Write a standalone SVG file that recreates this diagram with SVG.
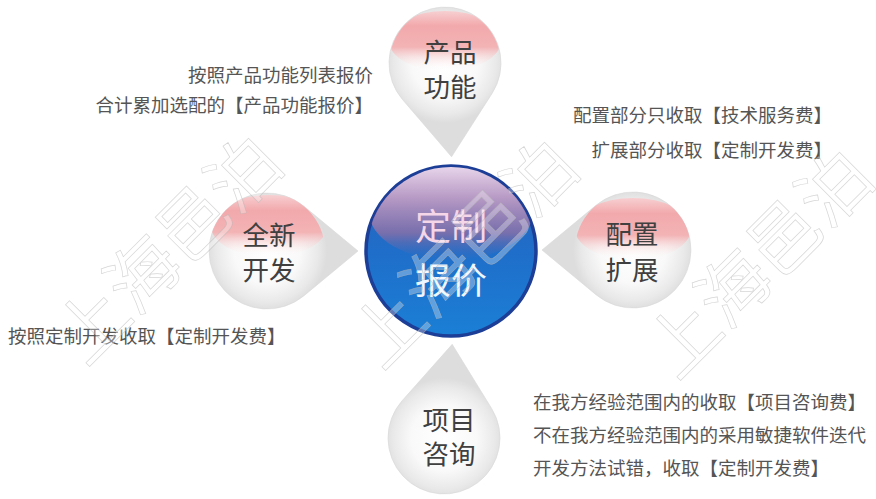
<svg xmlns="http://www.w3.org/2000/svg" width="876" height="499" viewBox="0 0 876 499">
<style>
.drop{fill:url(#gDrop);stroke:#d8d8d8;stroke-width:0.6}
.cap{fill:url(#gCap)}
.nt{font-family:"Noto Sans CJK SC","Noto Sans",sans-serif;font-size:26.5px;fill:#404040;text-anchor:middle}
.ann{font-family:"Noto Sans CJK SC","Noto Sans",sans-serif;font-size:18.5px;fill:#555555}
.ct{font-family:"Noto Sans CJK SC","Noto Sans",sans-serif;font-size:36px;text-anchor:middle}
.wm{font-family:"Noto Sans CJK SC","Noto Sans",sans-serif;font-size:71px;fill:#ffffff;fill-opacity:0.3;stroke:#b4b4b4;stroke-opacity:0.55;stroke-width:0.7;text-anchor:middle}
</style>
<defs>
<radialGradient id="gDrop" gradientUnits="userSpaceOnUse" cx="0" cy="0" r="60">
<stop offset="0" stop-color="#ffffff"/>
<stop offset="0.55" stop-color="#f9f9f9"/>
<stop offset="0.85" stop-color="#e9e9e9"/>
<stop offset="1" stop-color="#dddddd"/>
</radialGradient>
<linearGradient id="gCap" x1="0" y1="0" x2="0" y2="1">
<stop offset="0" stop-color="#f7cfd1"/>
<stop offset="0.25" stop-color="#f2a9ac"/>
<stop offset="0.6" stop-color="#f3b3b5"/>
<stop offset="1" stop-color="#ffffff" stop-opacity="0"/>
</linearGradient>
<linearGradient id="gBlue" x1="0" y1="0" x2="0" y2="1">
<stop offset="0" stop-color="#2d5fb8"/>
<stop offset="0.5" stop-color="#1f6ec9"/>
<stop offset="1" stop-color="#1b7fd6"/>
</linearGradient>
<linearGradient id="gHi" x1="0" y1="0" x2="0" y2="1">
<stop offset="0" stop-color="#f2dff0" stop-opacity="0.97"/>
<stop offset="0.35" stop-color="#c49fc6" stop-opacity="0.92"/>
<stop offset="0.72" stop-color="#9070a6" stop-opacity="0.78"/>
<stop offset="1" stop-color="#4f66b3" stop-opacity="0"/>
</linearGradient>
<clipPath id="clipS"><circle cx="0" cy="0" r="55.5"/></clipPath>
<clipPath id="clipL"><circle cx="0" cy="0" r="58"/></clipPath>
<clipPath id="clipC"><circle cx="451" cy="251" r="84"/></clipPath>
</defs>
<rect width="876" height="499" fill="#ffffff"/>

<g id="connectors"></g>

<g id="node-center">
<circle cx="451" cy="251" r="85" fill="url(#gBlue)" stroke="#1c3e96" stroke-width="3.5"/>
<ellipse cx="451" cy="212" rx="82" ry="48" fill="url(#gHi)" clip-path="url(#clipC)"/>
<text class="ct" x="451" y="240" fill="#f4d6e8">定制</text>
<text class="ct" x="451" y="294" fill="#eef6ff">报价</text>
</g>

<g id="node-product" transform="translate(445,63)">
<path class="drop" d="M0,94 L-45,33.4 A56 56 0 1 1 45,33.4 Z" transform="rotate(-4)"/>
<ellipse class="cap" cx="0" cy="-22" rx="56" ry="30" clip-path="url(#clipS)"/>
<text class="nt" x="5" y="-1">产品<tspan x="5" dy="35">功能</tspan></text>
</g>

<g id="node-new" transform="translate(267,251)">
<path class="drop" d="M0,91 L-44.7,37 A58 58 0 1 1 44.7,37 Z" transform="rotate(-90)"/>
<ellipse class="cap" cx="2" cy="-25" rx="58" ry="31" clip-path="url(#clipL)"/>
<text class="nt" x="2" y="-6">全新<tspan x="2" dy="35">开发</tspan></text>
</g>

<g id="node-config" transform="translate(633,250)">
<path class="drop" d="M0,91 L-44.7,37 A58 58 0 1 1 44.7,37 Z" transform="rotate(90)"/>
<ellipse class="cap" cx="0" cy="-21" rx="58" ry="31" clip-path="url(#clipL)"/>
<text class="nt" x="-1" y="-6">配置<tspan x="-1" dy="36">扩展</tspan></text>
</g>

<g id="node-consult" transform="translate(444,438)">
<path class="drop" d="M0,94 L-45,33.4 A56 56 0 1 1 45,33.4 Z" transform="rotate(185)"/>
<text class="nt" x="5" y="-8">项目<tspan x="5" dy="34">咨询</tspan></text>
</g>

<g id="annotations">
<text class="ann" x="373" y="82" text-anchor="end">按照产品功能列表报价</text>
<text class="ann" x="373" y="112" text-anchor="end">合计累加选配的【产品功能报价】</text>
<text class="ann" x="832" y="122" text-anchor="end">配置部分只收取【技术服务费】</text>
<text class="ann" x="832" y="157" text-anchor="end">扩展部分收取【定制开发费】</text>
<text class="ann" x="8" y="343">按照定制开发收取【定制开发费】</text>
<text class="ann" x="533" y="409">在我方经验范围内的收取【项目咨询费】</text>
<text class="ann" x="533" y="442">不在我方经验范围内的采用敏捷软件迭代</text>
<text class="ann" x="533" y="475">开发方法试错，收取【定制开发费】</text>
</g>

<g id="watermarks">
<text class="wm" transform="translate(169,250) rotate(-45)" y="24">上海邑泊</text>
<text class="wm" transform="translate(465,254) rotate(-45)" y="24">上海邑泊</text>
<text class="wm" transform="translate(760,264) rotate(-45)" y="24">上海邑泊</text>
</g>
</svg>
